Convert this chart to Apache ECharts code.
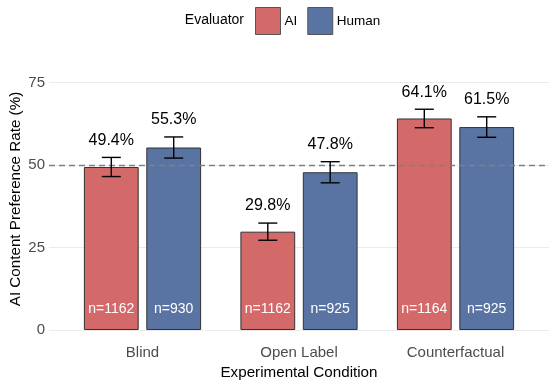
<!DOCTYPE html>
<html>
<head>
<meta charset="utf-8">
<script src="https://cdn.jsdelivr.net/npm/echarts@6/dist/echarts.min.js"></script>
<style>html,body{margin:0;padding:0;background:#fff}#c{width:555px;height:387px}</style>
</head>
<body>
<div id="c"></div>
<script>
const categories = ['Blind', 'Open Label', 'Counterfactual'];
const seriesNames = ['AI', 'Human'];
const aiRate = [49.4, 29.8, 64.1];
const humanRate = [55.3, 47.8, 61.5];
const aiCI = [2.9, 2.6, 2.8];
const humanCI = [3.2, 3.2, 3.1];
const aiN = [1162, 1162, 1164];
const humanN = [930, 925, 925];
const yTicks = [0, 25, 50, 75];
const refLine = 50;

const FONT = '"Liberation Sans", Arial, Helvetica, sans-serif';
const colors = { AI: '#D4696A', Human: '#5974A2' };
const BAR_W = 54.8, BAR_GAP = 7.6;
const OFF = (BAR_W + BAR_GAP) / 2;

function errSeries(name, rates, cis, ns, offset) {
  return {
    type: 'custom', name: name + '_err', xAxisIndex: 1, yAxisIndex: 1, z: 5, silent: true,
    data: rates.map((v, i) => [i, v, cis[i], ns[i]]),
    encode: { x: 0, y: 1 },
    renderItem: function (params, api) {
      const cat = api.value(0), v = api.value(1), ci = api.value(2), n = api.value(3);
      const x = api.coord([cat, v])[0] + offset;
      const top = api.coord([cat, v + ci])[1];
      const bot = api.coord([cat, v - ci])[1];
      const base = api.coord([cat, 0])[1];
      const ls = { stroke: '#000', lineWidth: 1.4 };
      return {
        type: 'group',
        children: [
          { type: 'line', shape: { x1: x, y1: top, x2: x, y2: bot }, style: ls },
          { type: 'line', shape: { x1: x - 9.5, y1: top, x2: x + 9.5, y2: top }, style: ls },
          { type: 'line', shape: { x1: x - 9.5, y1: bot, x2: x + 9.5, y2: bot }, style: ls },
          { type: 'text', style: { text: v.toFixed(1) + '%', x: x, y: top - 17, align: 'center', verticalAlign: 'middle', font: '16px ' + FONT, fill: '#000' } },
          { type: 'text', style: { text: 'n=' + n, x: x, y: base - 21, align: 'center', verticalAlign: 'middle', font: '14px ' + FONT, fill: '#fff' } }
        ]
      };
    }
  };
}

const chart = echarts.init(document.getElementById('c'), null, { renderer: 'canvas' });
chart.setOption({
  backgroundColor: '#fff',
  animation: false,
  textStyle: { fontFamily: FONT },
  grid: [
    { left: 49, right: 6, top: 82.5, bottom: 57 },
    { left: 64.25, right: 21.25, top: 82.5, bottom: 57 }
  ],
  xAxis: [
    { type: 'value', gridIndex: 0, min: 0, max: 1, show: false },
    { type: 'category', gridIndex: 1, data: categories,
      axisLine: { show: false }, axisTick: { show: false }, splitLine: { show: false },
      axisLabel: { color: '#4d4d4d', fontSize: 15, margin: 15, fontFamily: FONT } }
  ],
  yAxis: [
    { type: 'value', gridIndex: 0, min: yTicks[0], max: yTicks[yTicks.length - 1], interval: 25,
      axisLine: { show: false }, axisTick: { show: false },
      axisLabel: { color: '#4d4d4d', fontSize: 15, margin: 4, fontFamily: FONT },
      splitLine: { show: true, lineStyle: { color: '#ebebeb', width: 1 } } },
    { type: 'value', gridIndex: 1, min: yTicks[0], max: yTicks[yTicks.length - 1], interval: 25, show: false,
      splitLine: { show: false } }
  ],
  legend: {
    data: seriesNames, left: 255, top: 7, padding: 0, itemWidth: 25, itemHeight: 27, itemGap: 10, icon: 'rect',
    textStyle: { fontSize: 13.5, color: '#000', fontFamily: FONT, padding: [0, 0, 0, -1] },
    itemStyle: { borderColor: '#555', borderWidth: 1 },
    selectedMode: false
  },
  graphic: [
    { type: 'text', style: { text: 'Evaluator', x: 244, y: 20.5, align: 'right', verticalAlign: 'middle', font: '14px ' + FONT, fill: '#000' } },
    { type: 'text', style: { text: 'Experimental Condition', x: 299, y: 373, align: 'center', verticalAlign: 'middle', font: '15.2px ' + FONT, fill: '#000' } },
    { type: 'text', rotation: Math.PI / 2, x: 16, y: 199, style: { text: 'AI Content Preference Rate (%)', x: 0, y: 0, align: 'center', verticalAlign: 'middle', font: '15.2px ' + FONT, fill: '#000' } }
  ],
  series: [
    { type: 'line', xAxisIndex: 0, yAxisIndex: 0, data: [], silent: true, symbol: 'none',
      markLine: { silent: true, symbol: 'none', label: { show: false },
        lineStyle: { color: '#808080', type: [6, 4], width: 1.4 },
        data: [{ yAxis: refLine }] } },
    { type: 'bar', name: 'AI', xAxisIndex: 1, yAxisIndex: 1, data: aiRate, barWidth: BAR_W, barGap: (BAR_GAP / BAR_W * 100).toFixed(1) + '%',
      itemStyle: { color: colors.AI, borderColor: '#333', borderWidth: 1 } },
    { type: 'bar', name: 'Human', xAxisIndex: 1, yAxisIndex: 1, data: humanRate, barWidth: BAR_W, barGap: (BAR_GAP / BAR_W * 100).toFixed(1) + '%',
      itemStyle: { color: colors.Human, borderColor: '#333', borderWidth: 1 } },
    errSeries('AI', aiRate, aiCI, aiN, -OFF),
    errSeries('Human', humanRate, humanCI, humanN, OFF)
  ]
});
</script>
</body>
</html>
